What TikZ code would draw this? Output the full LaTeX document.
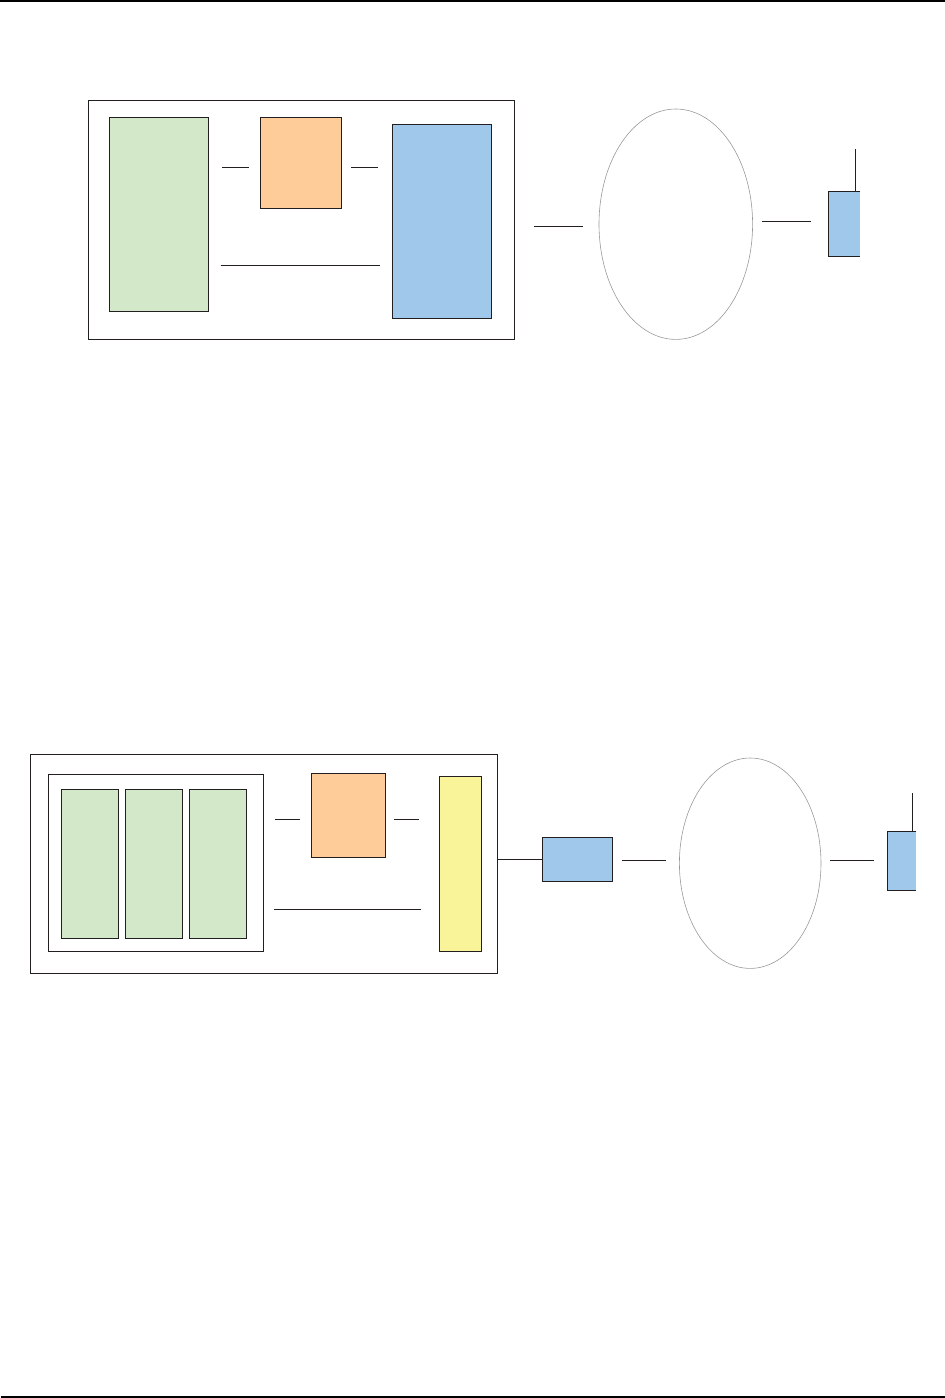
\documentclass[tikz,border=0pt]{standalone}
\usetikzlibrary{fit}
\definecolor{cgreen}{HTML}{D2E8C8}
\definecolor{corange}{HTML}{FECC99}
\definecolor{cblue}{HTML}{A0C8EA}
\definecolor{cyellow}{HTML}{F9F39A}
\definecolor{cline}{HTML}{231F20}
\tikzset{
  box/.style={draw=cline, line width=0.9pt, inner sep=0pt, outer sep=0pt},
  frame/.style={box, fill=none},
  gbox/.style={box, fill=cgreen},
  obox/.style={box, fill=corange},
  bbox/.style={box, fill=cblue},
  ybox/.style={box, fill=cyellow},
  cloud/.style={draw=gray!80, line width=0.6pt, inner sep=0pt, outer sep=0pt},
  wire/.style={draw=cline, line width=0.9pt},
  rule/.style={draw=black, line width=2pt},
}
\begin{document}
\begin{tikzpicture}[x=1pt,y=-1pt]
\useasboundingbox (0,0) rectangle (945,1398);
% page rules
\coordinate (rt1) at (0,1); \coordinate (rt2) at (945,1);
\coordinate (rb1) at (1,1396.8); \coordinate (rb2) at (945,1396.8);
\draw[rule] (rt1) -- (rt2);
\draw[rule] (rb1) -- (rb2);

% ---------- upper diagram ----------
\node[frame, fit={(88.3,100.3) (514.7,339.3)}] (A) {};
\node[gbox, fit={(109.3,117.3) (208.7,311.3)}] (Agreen) {};
\node[obox, fit={(260.3,117.3) (341.7,208.3)}] (Aorange) {};
\node[bbox, fit={(392.3,124.3) (491.7,318.3)}] (Ablue) {};
\draw[cloud] (675.8,224.2) ellipse [x radius=76.8, y radius=115.2];
\coordinate (Acloud) at (675.8,224.2);
\node[fill=cblue, inner sep=0pt, outer sep=0pt, fit={(828.3,191) (860.3,256)}] (Adev) {};
\draw[wire] (Adev.north east) -- (Adev.north west) -- (Adev.south west) -- (Adev.south east);
\coordinate (Aant) at (855,149.3);
\draw[wire] (Adev.north -| Aant) -- (Aant);

\coordinate (a1) at (222,167.3); \coordinate (a2) at (249,167.3);
\coordinate (a3) at (351,167.3); \coordinate (a4) at (377.7,167.3);
\coordinate (a5) at (220.7,265.3); \coordinate (a6) at (380,265.3);
\coordinate (a7) at (534,226.3); \coordinate (a8) at (582.7,226.3);
\coordinate (a9) at (762.3,221.3); \coordinate (a10) at (810.7,221.3);
\draw[wire] (a1) -- (a2);
\draw[wire] (a3) -- (a4);
\draw[wire] (a5) -- (a6);
\draw[wire] (a7) -- (a8);
\draw[wire] (a9) -- (a10);

% ---------- lower diagram ----------
\node[frame, fit={(30.3,754.3) (497.3,973.3)}] (B) {};
\node[frame, fit={(48.3,774.3) (263.3,951.3)}] (Binner) {};
\node[gbox, fit={(61.3,789.3) (118.7,938.7)}] (Bg1) {};
\node[gbox, fit={(125.3,789.3) (182.3,938.7)}] (Bg2) {};
\node[gbox, fit={(189.3,789.3) (246.7,938.7)}] (Bg3) {};
\node[obox, fit={(311.3,773.3) (385.7,857.3)}] (Borange) {};
\node[ybox, fit={(439.3,776.3) (481.7,951.3)}] (Byellow) {};
\node[bbox, fit={(542.3,837.3) (612.3,881.3)}] (Bblue) {};
\draw[cloud] (750.2,863.2) ellipse [x radius=70.8, y radius=105.2];
\coordinate (Bcloud) at (750.2,863.2);
\node[fill=cblue, inner sep=0pt, outer sep=0pt, fit={(887.3,831) (916.3,890.3)}] (Bdev) {};
\draw[wire] (Bdev.north east) -- (Bdev.north west) -- (Bdev.south west) -- (Bdev.south east);
\coordinate (Bant) at (912.3,793.3);
\draw[wire] (Bdev.north -| Bant) -- (Bant);

\coordinate (b1) at (275.3,819.3); \coordinate (b2) at (300.3,819.3);
\coordinate (b3) at (394,819.3); \coordinate (b4) at (419,819.3);
\coordinate (b5) at (274,909.3); \coordinate (b6) at (420.7,909.3);
\coordinate (b7) at (622,860); \coordinate (b8) at (666,860);
\coordinate (b9) at (830,860); \coordinate (b10) at (874,860);
\draw[wire] (b1) -- (b2);
\draw[wire] (b3) -- (b4);
\draw[wire] (b5) -- (b6);
\draw[wire] (B.east |- Bblue.west) -- (Bblue.west);
\draw[wire] (b7) -- (b8);
\draw[wire] (b9) -- (b10);
\end{tikzpicture}
\end{document}
